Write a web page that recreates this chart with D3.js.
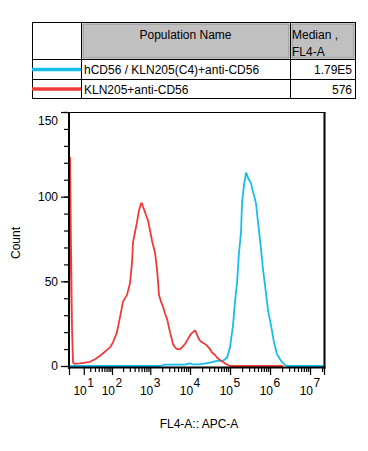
<!DOCTYPE html>
<html><head><meta charset="utf-8">
<script src="https://cdn.jsdelivr.net/npm/d3@7"></script>
<style>html,body{margin:0;padding:0;background:#fff}svg{display:block}text{font-family:"Liberation Sans",Arial,sans-serif;fill:#000}</style>
</head><body>
<svg id="c" width="368" height="451"></svg>
<script>
// ---- data ----
const populations = ["hCD56 / KLN205(C4)+anti-CD56", "KLN205+anti-CD56"];
const medians = ["1.79E5", "576"];
const headerName = "Population Name";
const headerStat = ["Median ,", "FL4-A"];
const xTitle = "FL4-A:: APC-A";
const yTitle = "Count";

// FL4-A values (x) and counts (y)
const blueX = [-3.3, 1763, 2355, 7472, 9970, 11850, 17700, 31500, 47200, 66700, 84000, 99800, 118600, 133100, 149300, 167600, 188000, 199100, 223400, 250700, 265560, 281300, 334300, 375100, 445800, 500200, 594500, 667100, 792800, 889600, 1057000, 1256500, 1493400, 1775000, 1991500, 2366900, 2656000, 22345000];
const blueY = [0, 0, 0.8, 0.8, 1.5, 1, 1, 2, 3, 3, 5, 11, 24, 38, 49, 67, 79, 96, 107, 114, 113, 111, 108, 103, 96, 85, 69, 57, 43, 33, 24, 14, 7, 4, 2.4, 0.6, 0, 0];

const redX = [-3.3, -2.4, -1.6, -0.86, -0.14, 1.3, 5.7, 11.7, 19.6, 30.1, 44, 58.7, 72, 87.8, 107, 137, 166, 199, 254, 304, 342, 363, 409, 460, 518, 583, 618, 655, 736, 781, 878, 986, 1108, 1319, 1482, 1570, 1664, 1868, 2098, 2355, 2644, 3144, 3739, 4198, 4711, 5601, 6286, 7472, 8385, 9410, 10560, 11850, 13300, 14090, 15800, 17700, 19900, 23650, 26500, 31500, 35400, 42080, 47200, 56110, 66700, 79270, 88900, 99800, 2109000];
const redY = [0, 123, 69, 22, 2, 1.2, 1.5, 2, 2.5, 4, 6, 8, 9.5, 11, 14, 20, 29, 38, 42, 49, 61, 73, 79, 85, 92, 96, 96, 94, 91, 89, 86, 80, 74, 67, 57, 50, 42, 38, 35, 31, 28, 20, 13, 11, 10, 10, 11, 13, 15, 17, 19, 20, 21, 20, 17, 15, 14, 13, 12, 10, 8, 6.5, 5, 3.5, 2.4, 1.2, 0.6, 0, 0];

const yTickValues = [0, 50, 100, 150];
const yMinorStep = 10;
const xDecades = [1, 2, 3, 4, 5, 6, 7];
const xDomain = [-3.3, 22345000];
const yDomain = [0, 150];

// ---- styles ----
const colors = ["#17bdee", "#f03a3a"];

const svg = d3.select("#c");
const x = d3.scaleSymlog().constant(12).domain(xDomain).range([69, 324]);
const y = d3.scaleLinear().domain(yDomain).range([366, 112]);

// ---- table ----
const T = svg.append("g");
T.append("rect").attr("x", 83).attr("y", 24).attr("width", 206).attr("height", 34)
  .attr("fill", "#c0c0c0").attr("stroke", "#8c8c8c");
T.append("rect").attr("x", 292).attr("y", 24).attr("width", 62).attr("height", 34)
  .attr("fill", "#c0c0c0").attr("stroke", "#8c8c8c");
T.append("rect").attr("x", 32.5).attr("y", 22.5).attr("width", 323).attr("height", 76)
  .attr("fill", "none").attr("stroke", "#000");
[[81.5, 22.5, 81.5, 98.5], [290.5, 22.5, 290.5, 98.5], [32.5, 59.5, 355.5, 59.5], [32.5, 79.5, 355.5, 79.5]]
  .forEach(l => T.append("line").attr("x1", l[0]).attr("y1", l[1]).attr("x2", l[2]).attr("y2", l[3]).attr("stroke", "#000"));
T.append("text").attr("x", 185.5).attr("y", 39).attr("text-anchor", "middle").attr("font-size", 12).text(headerName);
T.append("text").attr("x", 292).attr("y", 39).attr("font-size", 12).text(headerStat[0]);
T.append("text").attr("x", 292).attr("y", 56).attr("font-size", 12).text(headerStat[1]);
const rowY = [69.5, 89];
populations.forEach((p, i) => {
  T.append("line").attr("x1", 32).attr("x2", 81).attr("y1", rowY[i]).attr("y2", rowY[i])
    .attr("stroke", colors[i]).attr("stroke-width", 3.5);
  T.append("text").attr("x", 84).attr("y", rowY[i] + 4.5).attr("font-size", 12).text(p);
  T.append("text").attr("x", 352).attr("y", rowY[i] + 4.5).attr("text-anchor", "end").attr("font-size", 12).text(medians[i]);
});

// ---- curves ----
const line = d3.line().x(d => x(d[0])).y(d => y(d[1]));
svg.append("path").datum(d3.zip(blueX, blueY)).attr("d", line)
  .attr("fill", "none").attr("stroke", colors[0]).attr("stroke-width", 1.8).attr("stroke-linejoin", "round");
svg.append("path").datum(d3.zip(redX, redY)).attr("d", line)
  .attr("fill", "none").attr("stroke", colors[1]).attr("stroke-width", 1.8).attr("stroke-linejoin", "round");

// ---- axes ----
const minorX = [];
xDecades.forEach(d => { for (let k = 2; k <= 9; k++) { const v = k * Math.pow(10, d); if (v <= xDomain[1]) minorX.push(v); } });
const majorX = xDecades.map(d => Math.pow(10, d));
const gx = svg.append("g").attr("transform", "translate(0,368)");
gx.call(d3.axisBottom(x).tickValues(minorX).tickSize(4).tickFormat(""));
gx.call(g => g.select(".domain").remove());
const gx2 = svg.append("g").attr("transform", "translate(0,368)");
gx2.call(d3.axisBottom(x).tickValues(majorX.concat(xDomain)).tickSize(7).tickFormat(""));
gx2.call(g => g.select(".domain").remove());
svg.selectAll(".tick line").attr("stroke", "#000").attr("stroke-width", 1.2);

majorX.forEach((v, i) => {
  const px = x(v);
  svg.append("text").attr("x", px + 3).attr("y", 395).attr("text-anchor", "end").attr("font-size", 12).text("10");
  svg.append("text").attr("x", px + 3.5).attr("y", 386.5).attr("font-size", 12).text(xDecades[i]);
});

const gy = svg.append("g").attr("transform", "translate(68,0)");
gy.call(d3.axisLeft(y).tickValues(d3.range(yDomain[0], yDomain[1] + 1, yMinorStep)).tickSize(4).tickFormat(""));
gy.call(g => g.select(".domain").remove());
const gy2 = svg.append("g").attr("transform", "translate(68,0)");
gy2.call(d3.axisLeft(y).tickValues(yTickValues).tickSize(7).tickFormat(""));
gy2.call(g => g.select(".domain").remove());
gy.selectAll(".tick line").attr("stroke", "#000").attr("stroke-width", 1.2);
gy2.selectAll(".tick line").attr("stroke", "#000").attr("stroke-width", 1.2);
yTickValues.forEach(v => {
  svg.append("text").attr("x", 58).attr("y", Math.max(y(v), 121)).attr("dy", "0.35em")
    .attr("text-anchor", "end").attr("font-size", 12).text(v);
});

// frame
svg.append("line").attr("x1", 68).attr("x2", 325.5).attr("y1", 112.5).attr("y2", 112.5).attr("stroke", "#000");
svg.append("line").attr("x1", 69).attr("x2", 69).attr("y1", 112).attr("y2", 369).attr("stroke", "#000").attr("stroke-width", 2);
svg.append("line").attr("x1", 324.5).attr("x2", 324.5).attr("y1", 112).attr("y2", 369).attr("stroke", "#000").attr("stroke-width", 2);
svg.append("line").attr("x1", 68).attr("x2", 325.5).attr("y1", 367.5).attr("y2", 367.5).attr("stroke", "#000").attr("stroke-width", 2);

// titles
svg.append("text").attr("x", 199).attr("y", 428).attr("text-anchor", "middle").attr("font-size", 12).text(xTitle);
svg.append("text").attr("transform", "translate(20,243) rotate(-90)").attr("text-anchor", "middle").attr("font-size", 12).text(yTitle);
</script>
</body></html>
